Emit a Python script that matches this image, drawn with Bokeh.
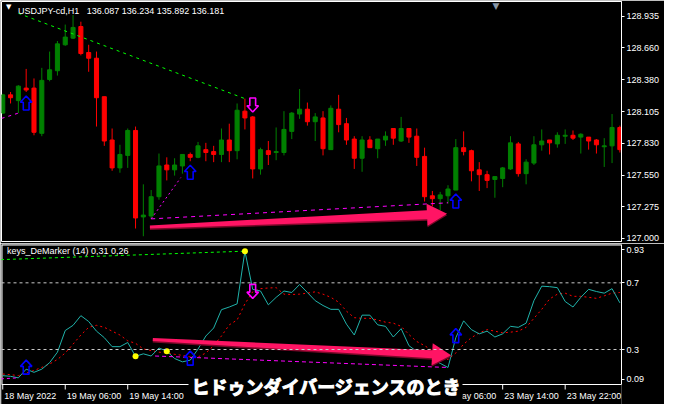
import numpy as np
from bokeh.plotting import figure
from bokeh.models import (Range1d, FixedTicker, Span, Label, ColumnDataSource,
                          PrintfTickFormatter)
from bokeh.layouts import column
from bokeh.embed import file_html
from bokeh.resources import INLINE
from bokeh.core.properties import value

# ---------------- data ----------------
SYMBOL_TITLE = "USDJPY-cd,H1"
TITLE_QUOTES = ["136.087", "136.234", "135.892", "136.181"]
IND_TITLE = "keys_DeMarker (14) 0,31 0,26"
CAPTION = "ヒドゥンダイバージェンスのとき"

TIME_TICK_BARS = [0, 8, 16, 24, 32, 40, 48, 56, 64, 72]
TIME_TICK_LABELS = ["18 May 2022", "19 May 06:00", "19 May 14:00", "19 May 22:00",
                    "20 May 06:00", "20 May 14:00", "20 May 22:00", "23 May 06:00",
                    "23 May 14:00", "23 May 22:00"]
PRICE_TICKS = [127.000, 127.275, 127.550, 127.830, 128.105, 128.380, 128.660, 128.935]
DEM_TICK_LABELS = ["0.09", "0.3", "0.7", "0.93"]
DEM_TICKS = [0.09, 0.3, 0.7, 0.93]
DEM_LEVELS = [0.3, 0.7]

OPEN = [128.091, 128.250, 128.200, 128.309, 128.309, 127.915, 128.384, 128.460, 128.686, 128.744,
        128.845, 128.619, 128.569, 128.234, 127.857, 127.614, 127.723, 127.940, 127.187, 127.195,
        127.363, 127.639, 127.597, 127.631, 127.731, 127.706, 127.773, 127.756, 127.731, 127.857,
        127.764, 128.108, 128.058, 127.605, 127.764, 127.748, 127.748, 127.932, 128.083, 128.125,
        128.016, 128.049, 127.773, 128.125, 127.999, 127.865, 127.698, 127.857, 127.781, 127.857,
        127.957, 127.848, 127.957, 127.890, 127.714, 127.371, 127.346, 127.371, 127.421, 127.790,
        127.764, 127.597, 127.555, 127.513, 127.522, 127.605, 127.823, 127.564, 127.656, 127.815,
        127.857, 127.823, 127.890, 127.898, 127.882, 127.882, 127.857, 127.798, 127.806, 127.966]
HIGH = [128.259, 128.275, 128.334, 128.476, 128.393, 128.485, 128.627, 128.719, 128.862, 128.945,
        128.887, 128.686, 128.627, 128.234, 127.957, 127.815, 127.957, 127.974, 127.471, 127.421,
        127.739, 127.706, 127.698, 127.731, 127.748, 127.840, 127.832, 127.806, 127.957, 127.999,
        128.175, 128.217, 128.066, 127.790, 127.848, 127.966, 128.108, 128.100, 128.301, 128.183,
        128.091, 128.108, 128.158, 128.250, 128.049, 127.890, 127.890, 127.890, 127.865, 127.932,
        127.957, 128.058, 127.957, 127.957, 127.790, 127.413, 127.405, 127.463, 127.865, 127.932,
        127.773, 127.664, 127.589, 127.538, 127.622, 127.890, 127.840, 127.689, 127.890, 127.949,
        127.857, 127.924, 127.949, 127.940, 127.915, 127.882, 127.865, 127.873, 128.083, 127.982]
LOW = [128.083, 128.175, 128.091, 128.275, 127.898, 127.890, 128.368, 128.418, 128.677, 128.736,
       128.594, 128.451, 127.974, 127.806, 127.589, 127.572, 127.614, 127.086, 127.019, 127.170,
       127.337, 127.505, 127.547, 127.564, 127.672, 127.698, 127.672, 127.664, 127.664, 127.664,
       127.689, 127.949, 127.522, 127.555, 127.639, 127.681, 127.723, 127.865, 128.041, 127.982,
       127.848, 127.723, 127.773, 127.924, 127.815, 127.605, 127.580, 127.790, 127.698, 127.806,
       127.815, 127.840, 127.832, 127.631, 127.321, 127.279, 127.245, 127.304, 127.421, 127.723,
       127.497, 127.413, 127.438, 127.354, 127.446, 127.597, 127.538, 127.471, 127.639, 127.764,
       127.731, 127.790, 127.823, 127.857, 127.739, 127.773, 127.739, 127.622, 127.656, 127.748]
CLOSE = [128.250, 128.225, 128.326, 128.292, 127.924, 128.376, 128.468, 128.694, 128.753, 128.837,
         128.610, 128.569, 128.225, 127.848, 127.614, 127.731, 127.940, 127.178, 127.203, 127.363,
         127.631, 127.597, 127.639, 127.731, 127.706, 127.806, 127.748, 127.731, 127.857, 127.764,
         128.116, 128.049, 127.605, 127.773, 127.731, 127.756, 127.949, 128.091, 128.125, 128.016,
         128.058, 127.781, 128.133, 127.991, 127.857, 127.698, 127.857, 127.790, 127.865, 127.890,
         127.873, 127.957, 127.882, 127.706, 127.363, 127.346, 127.379, 127.430, 127.790, 127.756,
         127.589, 127.555, 127.505, 127.538, 127.614, 127.832, 127.564, 127.664, 127.815, 127.848,
         127.832, 127.898, 127.898, 127.873, 127.907, 127.848, 127.815, 127.806, 127.966, 127.773]

DEMARKER = [0.143, 0.139, 0.130, 0.182, 0.163, 0.182, 0.221, 0.284, 0.414, 0.445,
            0.503, 0.468, 0.410, 0.371, 0.317, 0.317, 0.342, 0.259, 0.274, 0.261,
            0.309, 0.290, 0.246, 0.226, 0.236, 0.303, 0.381, 0.429, 0.539, 0.555,
            0.574, 0.890, 0.661, 0.651, 0.568, 0.613, 0.651, 0.642, 0.690, 0.642,
            0.593, 0.564, 0.541, 0.541, 0.452, 0.387, 0.506, 0.506, 0.448, 0.439,
            0.375, 0.425, 0.323, 0.288, 0.294, 0.240, 0.217, 0.192, 0.371, 0.472,
            0.419, 0.394, 0.410, 0.375, 0.394, 0.439, 0.433, 0.458, 0.593, 0.680,
            0.677, 0.671, 0.588, 0.555, 0.613, 0.661, 0.648, 0.638, 0.665, 0.580]
SIGNAL = [0.153, 0.149, 0.143, 0.159, 0.174, 0.193, 0.213, 0.240, 0.279, 0.332,
          0.387, 0.433, 0.445, 0.433, 0.410, 0.387, 0.352, 0.337, 0.303, 0.294,
          0.284, 0.279, 0.271, 0.265, 0.255, 0.255, 0.279, 0.323, 0.381, 0.448,
          0.477, 0.574, 0.646, 0.665, 0.669, 0.671, 0.632, 0.630, 0.632, 0.638,
          0.646, 0.632, 0.613, 0.584, 0.530, 0.491, 0.487, 0.487, 0.477, 0.464,
          0.458, 0.439, 0.390, 0.348, 0.323, 0.294, 0.259, 0.240, 0.279, 0.332,
          0.371, 0.400, 0.419, 0.410, 0.400, 0.404, 0.410, 0.433, 0.487, 0.541,
          0.603, 0.632, 0.638, 0.619, 0.619, 0.613, 0.607, 0.622, 0.638, 0.642]

# divergence lines (bar index, value)
BEAR_PRICE_X, BEAR_PRICE_Y = [2, 31], [128.960, 128.217]
BULL_PRICE_A_X, BULL_PRICE_A_Y = [-1, 2], [128.027, 128.091]
BULL_PRICE_B_X, BULL_PRICE_B_Y = [19, 22.8], [127.170, 127.530]
BULL_PRICE_C_X, BULL_PRICE_C_Y = [19, 57], [127.170, 127.310]
BEAR_IND_X, BEAR_IND_Y = [-1, 31], [0.838, 0.890]
BULL_IND_A_X, BULL_IND_A_Y = [-1, 2], [0.122, 0.130]
BULL_IND_C_X, BULL_IND_C_Y = [19.5, 57], [0.261, 0.192]

BUY_BARS = [3, 24, 58]
SELL_BARS = [32]
DOT_BARS = [17, 21, 31]

# hand-drawn annotation arrows (start, tip) in (bar, value)
MAIN_ARROW = [(18.84, 127.100), (56.88, 127.214)]
IND_ARROW = [(19.21, 0.360), (57.4, 0.265)]

# ---------------- layout constants ----------------
W = 664
FRAME_W = 620
MAIN_H, IND_H = 243, 161
MAIN_FH = 240
IND_FH = 160          # indicator frame incl. time-label strip
IND_DATA_H = 140      # part of it used by 0.09..0.93
XR = (-0.16, 79.21)
YR_MAIN = (126.973, 129.063)
IND_UNIT = (DEM_TICKS[3] - DEM_TICKS[0]) / IND_DATA_H       # value per pixel
YR_IND = (DEM_TICKS[0] - (IND_FH - IND_DATA_H) * IND_UNIT, DEM_TICKS[3])
BULL, BEAR = "#008000", "#ff0000"
PINK = "#ff1464"
FONT = "Liberation Sans"
CAPTION_X = 190          # px from the frame's left edge
CAPTION_MASK = (187, 461, 13)   # px left, px right, px above the time axis line

x_range = Range1d(*XR)
BAR_PX = FRAME_W / (XR[1] - XR[0])
MAIN_UNIT = (YR_MAIN[1] - YR_MAIN[0]) / MAIN_FH


def style_axis(ax, tick_out=3):
    ax.axis_line_color = "white"
    ax.major_tick_line_color = "white"
    ax.minor_tick_line_color = None
    ax.major_tick_in = 0
    ax.major_tick_out = tick_out
    ax.major_label_text_color = "white"
    ax.major_label_text_font = FONT
    ax.major_label_text_font_size = "9px"
    ax.major_label_standoff = 2


def arrow_polygon(start, end, unit_y, w0, w1, head_len, head_w):
    p0 = np.array([start[0] * BAR_PX, start[1] / unit_y])
    p1 = np.array([end[0] * BAR_PX, end[1] / unit_y])
    d = (p1 - p0) / np.linalg.norm(p1 - p0)
    n = np.array([-d[1], d[0]])
    b = p1 - d * head_len
    pts = [p0 + n * w0 / 2, b + n * w1 / 2, b + n * head_w / 2, p1,
           b - n * head_w / 2, b - n * w1 / 2, p0 - n * w0 / 2]
    return [p[0] / BAR_PX for p in pts], [p[1] * unit_y for p in pts]


# hollow block arrow outline, pixel shape measured from the tip (x right, y away from tip)
ARROW_SHAPE = [(0, 0), (5.8, 6.2), (2.9, 6.2), (2.9, 14), (-2.9, 14), (-2.9, 6.2), (-5.8, 6.2)]


def signal_arrows(bars, vals, unit_y, direction, gap):
    # direction +1: up arrow, tip `gap` px below the value; -1: down arrow, tip `gap` px above
    xs, ys = [], []
    for b, v in zip(bars, vals):
        xs.append([b + px / BAR_PX for px, _ in ARROW_SHAPE])
        if direction > 0:
            ys.append([v - (gap + py) * unit_y for _, py in ARROW_SHAPE])
        else:
            ys.append([v + (gap + py) * unit_y for _, py in ARROW_SHAPE])
    return xs, ys


# ---------------- main price panel ----------------
main = figure(width=W, height=MAIN_H, x_range=x_range, y_range=Range1d(*YR_MAIN),
              output_backend="svg", toolbar_location=None, x_axis_location=None,
              y_axis_location="right", background_fill_color="black",
              border_fill_color="black", outline_line_color="white",
              min_border_left=1, min_border_top=1, min_border_bottom=2, min_border_right=43)
main.grid.visible = False
style_axis(main.yaxis[0])
main.yaxis[0].ticker = FixedTicker(ticks=PRICE_TICKS)
main.yaxis[0].formatter = PrintfTickFormatter(format="%.3f")

idx = np.arange(len(OPEN))
o, h, l, c = map(np.array, (OPEN, HIGH, LOW, CLOSE))
up = c >= o
colors = np.where(up, BULL, BEAR)
src = ColumnDataSource(dict(x=idx, o=o, h=h, l=l, c=c,
                            top=np.maximum(o, c), bot=np.minimum(o, c), col=colors))
main.segment(x0="x", y0="l", x1="x", y1="h", color="col", line_width=1, source=src)
main.vbar(x="x", width=0.52, top="top", bottom="bot", fill_color="col", line_color="col",
          line_width=1, source=src)

main.line(BEAR_PRICE_X, BEAR_PRICE_Y, line_color="#00ff00", line_dash="3 4", line_width=1)
main.line(BULL_PRICE_A_X, BULL_PRICE_A_Y, line_color="#ff00ff", line_dash="3 4", line_width=1)
main.line(BULL_PRICE_B_X, BULL_PRICE_B_Y, line_color="#ff00ff", line_dash="2 3", line_width=1)
main.line(BULL_PRICE_C_X, BULL_PRICE_C_Y, line_color="#ff00ff", line_dash="4 4", line_width=1)

bx, by = signal_arrows(BUY_BARS, [LOW[i] for i in BUY_BARS], MAIN_UNIT, +1, 4)
main.patches(bx, by, fill_color="black", line_color="#0000ff", line_width=1.6)
sx_, sy_ = signal_arrows(SELL_BARS, [HIGH[i] for i in SELL_BARS], MAIN_UNIT, -1, 4)
main.patches(sx_, sy_, fill_color="black", line_color="#ff00ff", line_width=1.6)

axs, ays = arrow_polygon(MAIN_ARROW[0], MAIN_ARROW[1], MAIN_UNIT, 3, 9, 20, 22)
main.patch(axs, [y - 1.5 * MAIN_UNIT for y in ays], fill_color="#7a0828", line_color=None)
main.patch(axs, ays, fill_color=PINK, line_color=None)

main.add_layout(Label(x=4.5, y=MAIN_FH - 9, x_units="screen", y_units="screen",
                      text="\u25bc", text_color="white", text_font_size="7px",
                      text_font="DejaVu Sans"))
main.add_layout(Label(x=16.5, y=MAIN_FH - 9.5, x_units="screen", y_units="screen",
                      text=SYMBOL_TITLE + "\u00a0\u00a0\u00a0" + "\u00a0".join(TITLE_QUOTES),
                      text_color="white", text_font=FONT, text_font_size="9px",
                      text_baseline="alphabetic"))
main.add_layout(Label(x=494.5, y=MAIN_FH + 1, x_units="screen", y_units="screen",
                      text="\u25bc", text_color="#8a97a6", text_font="DejaVu Sans",
                      text_font_size="9px", text_align="center", text_baseline="top"))

# ---------------- indicator panel ----------------
ind = figure(width=W, height=IND_H, x_range=x_range, y_range=Range1d(*YR_IND),
             output_backend="svg", toolbar_location=None, y_axis_location="right",
             x_axis_location=None, background_fill_color="black",
             border_fill_color="black", outline_line_color=None,
             min_border_left=1, min_border_top=1, min_border_bottom=0, min_border_right=43)
ind.grid.visible = False
style_axis(ind.yaxis[0])
ind.yaxis[0].bounds = (DEM_TICKS[0], DEM_TICKS[3])
edge = round(5.3 * IND_UNIT, 3)
dem_tick_pos = [round(DEM_TICKS[0] + edge, 3), DEM_TICKS[1], DEM_TICKS[2],
                round(DEM_TICKS[3] - edge, 3)]
ind.yaxis[0].ticker = FixedTicker(ticks=dem_tick_pos)
ind.yaxis[0].major_label_overrides = {p: t for p, t in zip(dem_tick_pos, DEM_TICK_LABELS)}

# panel border (top, left) and time axis
ind.add_layout(Span(location=DEM_TICKS[3], dimension="width", line_color="white", line_width=2))
ind.line([XR[0], XR[0]], [DEM_TICKS[0], DEM_TICKS[3]], line_color="white", line_width=2)
ind.line([XR[0], XR[1]], [DEM_TICKS[0], DEM_TICKS[0]], line_color="white", line_width=1)
ntk = len(TIME_TICK_BARS)
ind.segment(x0=TIME_TICK_BARS, y0=[DEM_TICKS[0]] * ntk, x1=TIME_TICK_BARS,
            y1=[DEM_TICKS[0] - 5 * IND_UNIT] * ntk, line_color="white", line_width=1)
ind.text(x=TIME_TICK_BARS, y=[DEM_TICKS[0]] * ntk, text=TIME_TICK_LABELS,
         text_color="white", text_font=value(FONT), text_font_size="9px",
         text_align="left", text_baseline="top", x_offset=1.5, y_offset=6)
# dark halo of the caption hides the axis underneath it
ind.quad(left=[XR[0] + CAPTION_MASK[0] / BAR_PX], right=[XR[0] + CAPTION_MASK[1] / BAR_PX],
         bottom=[YR_IND[0]], top=[DEM_TICKS[0] + CAPTION_MASK[2] * IND_UNIT],
         fill_color="black", line_color=None)

for lev in DEM_LEVELS:
    ind.add_layout(Span(location=lev, dimension="width", line_color="#c8c8c8",
                        line_dash="3 3", line_width=1))

ind.line(idx, SIGNAL, line_color="#ff0000", line_dash="2 3", line_width=1)
ind.line(idx, DEMARKER, line_color="#20b2aa", line_width=1)
ind.line(BEAR_IND_X, BEAR_IND_Y, line_color="#00ff00", line_dash="3 3", line_width=1)
ind.line(BULL_IND_A_X, BULL_IND_A_Y, line_color="#ff00ff", line_dash="3 3", line_width=1)
ind.line(BULL_IND_C_X, BULL_IND_C_Y, line_color="#ff00ff", line_dash="4 3", line_width=1)
ind.scatter(DOT_BARS, [DEMARKER[i] for i in DOT_BARS], size=6, fill_color="#ffff00",
            line_color=None)

ibx, iby = signal_arrows(BUY_BARS, [DEMARKER[i] for i in BUY_BARS], IND_UNIT, +1, -9)
ind.patches(ibx, iby, fill_alpha=0, line_color="#0000ff", line_width=1.6)
isx, isy = signal_arrows(SELL_BARS, [DEMARKER[i] for i in SELL_BARS], IND_UNIT, -1, -9)
ind.patches(isx, isy, fill_alpha=0, line_color="#ff00ff", line_width=1.6)

ixs, iys = arrow_polygon(IND_ARROW[0], IND_ARROW[1], IND_UNIT, 3, 8, 19, 22)
ind.patch(ixs, [y - 1.5 * IND_UNIT for y in iys], fill_color="#7a0828", line_color=None)
ind.patch(ixs, iys, fill_color=PINK, line_color=None)

ind.add_layout(Label(x=5.5, y=IND_FH - 6, x_units="screen", y_units="screen",
                     text=IND_TITLE, text_color="white", text_font=FONT,
                     text_font_size="9px", text_baseline="alphabetic"))

ind.add_layout(Label(x=CAPTION_X, y=19, x_units="screen", y_units="screen", text=CAPTION,
                     text_color="white", text_font="Noto Sans CJK JP",
                     text_font_style="bold", text_font_size="18px",
                     text_outline_color="white", text_baseline="alphabetic"))

layout = column(main, ind, spacing=0)
html = file_html(layout, INLINE)
html = html.replace("<body>", "<body style=\"background-color:#000000;\">", 1)
open("out.html", "w").write(html)
